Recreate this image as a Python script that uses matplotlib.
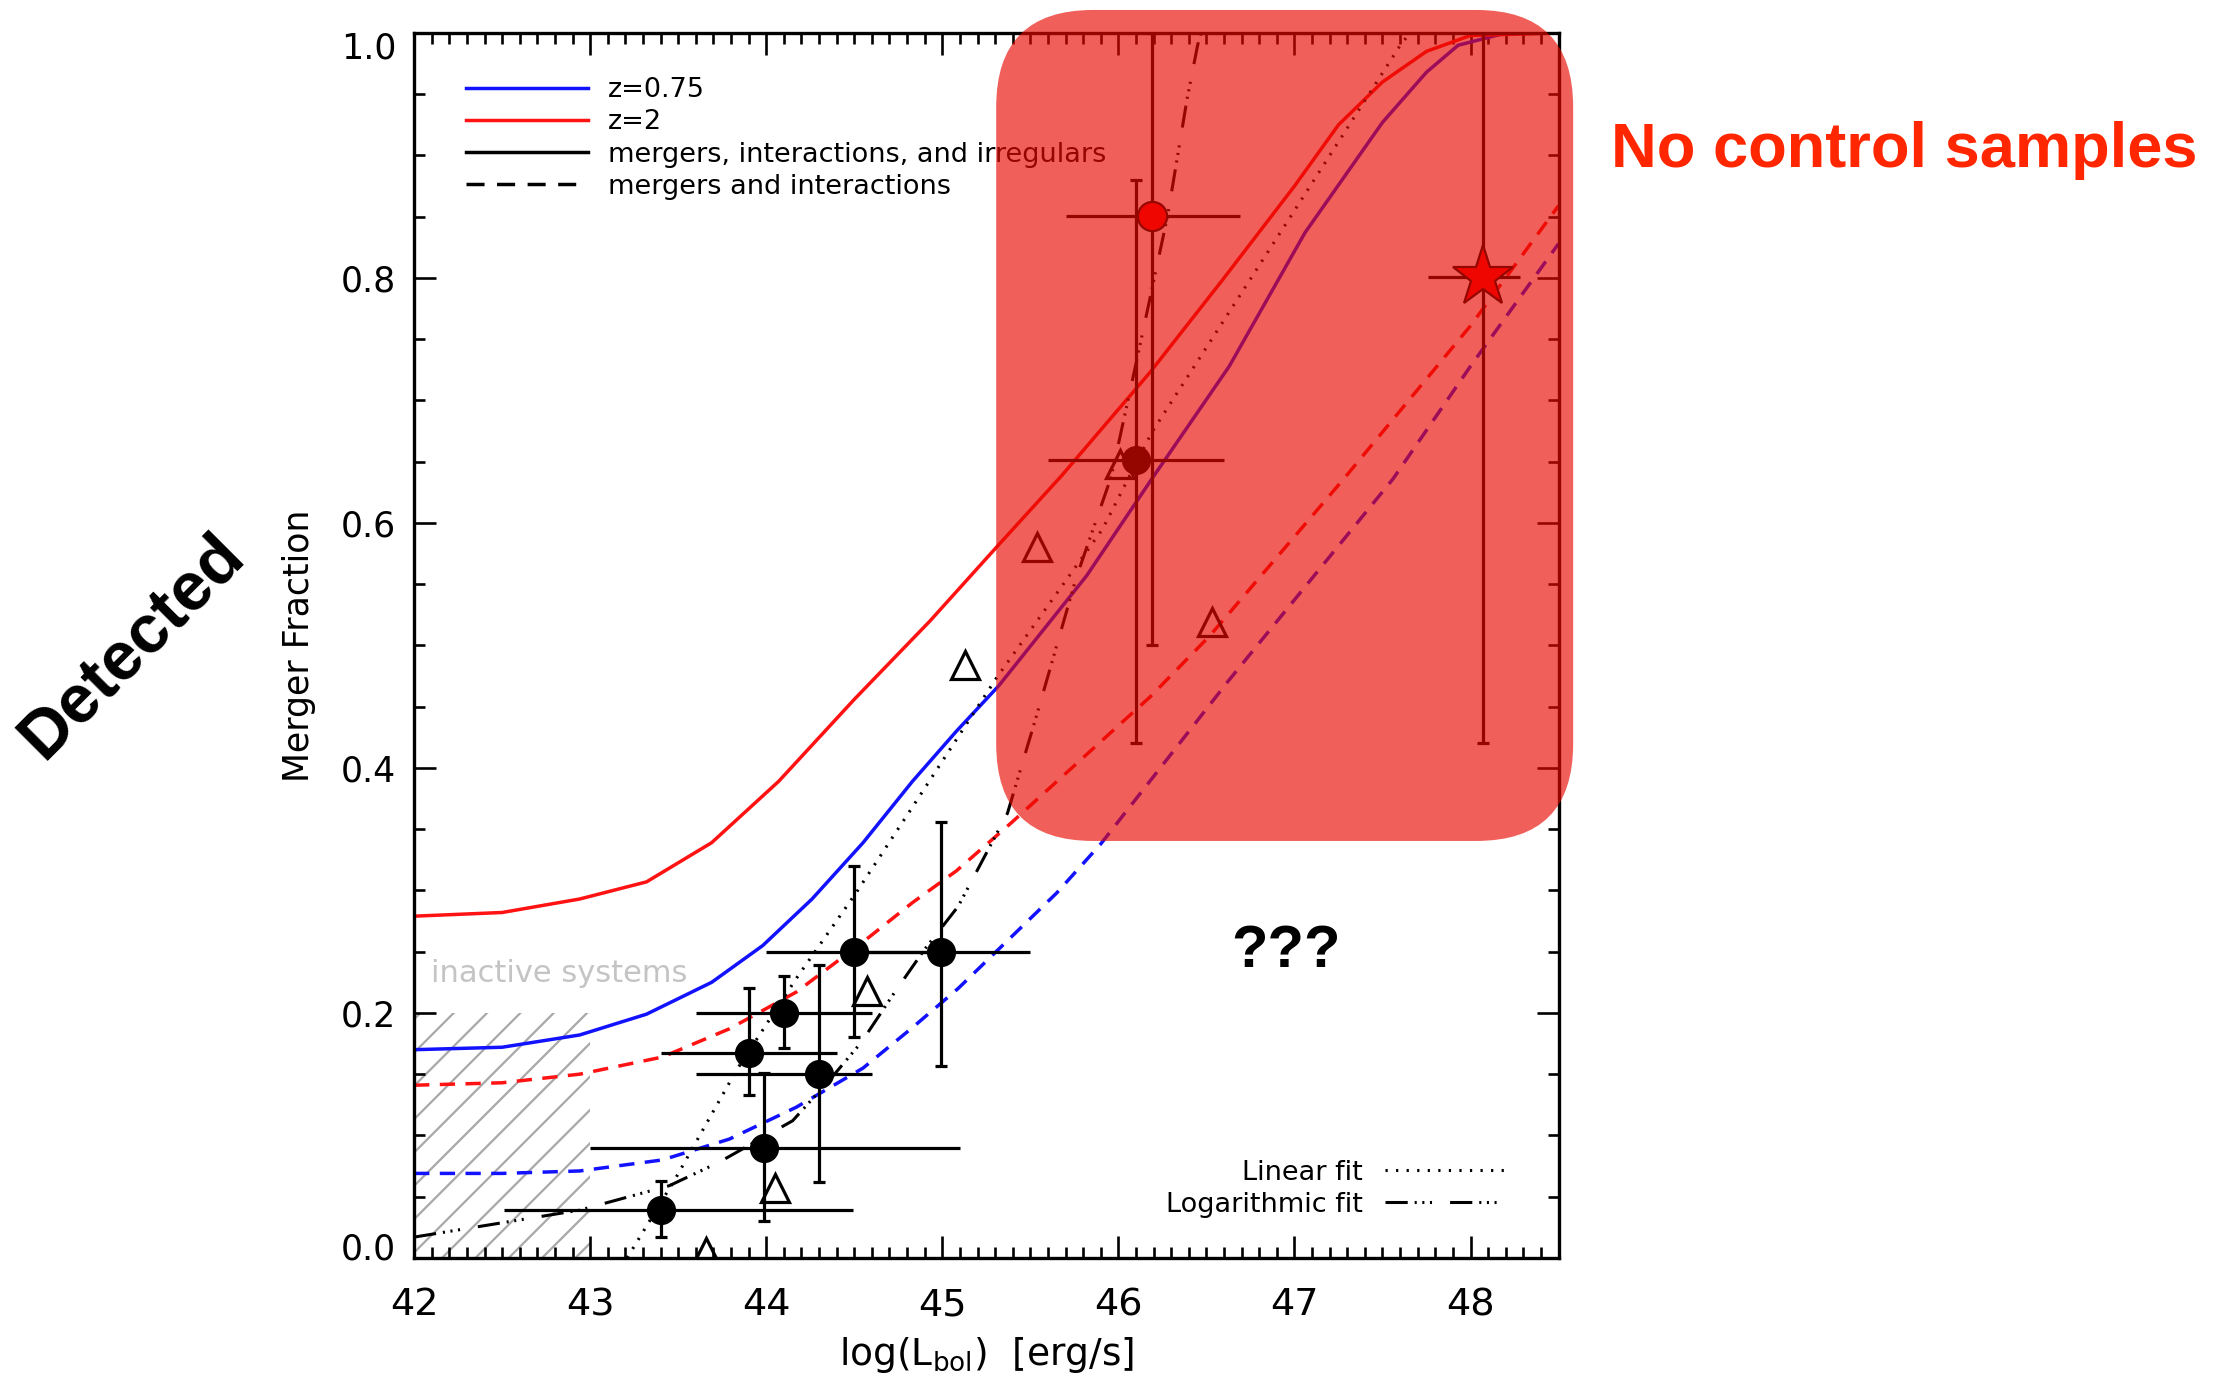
import matplotlib
matplotlib.use('Agg')
import matplotlib.pyplot as plt
import matplotlib.transforms as mtransforms
from matplotlib.lines import Line2D
from matplotlib.patches import FancyBboxPatch
from matplotlib.ticker import MultipleLocator
import numpy as np

plt.rcParams['font.family'] = ['DejaVu Sans']
plt.rcParams['mathtext.fontset'] = 'dejavusans'
plt.rcParams['lines.scale_dashes'] = False
plt.rcParams['hatch.linewidth'] = 1.6

# model curves, z=0.75 (blue) and z=2 (red)
lum_z075_all = [42.0, 42.5, 42.94, 43.32, 43.69, 43.98, 44.26, 44.55, 44.83, 45.08,
                45.32, 45.82, 46.19, 46.63, 47.06, 47.5, 47.75, 47.93, 48.2, 48.5]
frac_z075_all = [0.170, 0.172, 0.182, 0.199, 0.225, 0.255, 0.293, 0.339, 0.389, 0.430,
                 0.467, 0.557, 0.636, 0.728, 0.837, 0.927, 0.968, 0.990, 1.0, 1.0]

lum_z2_all = [42.0, 42.5, 42.94, 43.32, 43.69, 44.07, 44.5, 44.93, 45.3, 45.68,
              46.18, 46.6, 47.0, 47.25, 47.5, 47.75, 48.0, 48.5]
frac_z2_all = [0.279, 0.282, 0.293, 0.307, 0.339, 0.389, 0.456, 0.520, 0.579, 0.639,
               0.723, 0.800, 0.875, 0.925, 0.960, 0.985, 0.998, 1.0]

lum_z075_mi = [42.0, 42.5, 42.94, 43.41, 43.79, 44.17, 44.55, 44.83, 45.09, 45.65,
               45.9, 46.63, 47.56, 48.0, 48.5]
frac_z075_mi = [0.069, 0.069, 0.071, 0.080, 0.097, 0.123, 0.155, 0.188, 0.220, 0.298,
                0.338, 0.472, 0.636, 0.728, 0.828]

lum_z2_mi = [42.0, 42.5, 42.94, 43.41, 43.79, 44.17, 44.55, 44.83, 45.08, 45.39,
             46.18, 46.52, 47.28, 48.0, 48.5]
frac_z2_mi = [0.141, 0.143, 0.150, 0.164, 0.187, 0.217, 0.258, 0.290, 0.316, 0.355,
              0.458, 0.508, 0.636, 0.761, 0.859]

# fits to the data
lin_lum = [43.21, 43.485, 43.83, 44.17, 44.51, 44.83, 45.07, 45.31, 45.91, 46.19,
           47.0, 47.61, 47.66]
lin_frac = [0.0, 0.065, 0.153, 0.228, 0.298, 0.368, 0.421, 0.474, 0.595, 0.674,
            0.855, 0.992, 1.0]
log_lum = [42.0, 42.94, 43.45, 43.73, 44.15, 44.37, 44.54, 44.73, 44.90, 45.09,
           45.37, 45.54, 45.76, 45.96, 46.1, 46.28, 46.39, 46.45, 46.47]
log_frac = [0.017, 0.039, 0.059, 0.078, 0.112, 0.147, 0.176, 0.217, 0.252, 0.287,
            0.363, 0.445, 0.555, 0.638, 0.730, 0.851, 0.946, 0.990, 1.0]

# AGN samples (filled circles)
agn_lum = np.array([43.40, 43.99, 43.90, 44.10, 44.30, 44.50, 44.99, 46.10])
agn_frac = np.array([0.039, 0.090, 0.167, 0.200, 0.150, 0.250, 0.250, 0.651])
agn_lum_lo = np.array([42.51, 43.00, 43.40, 43.60, 43.60, 44.00, 44.50, 45.60])
agn_lum_hi = np.array([44.49, 45.10, 44.40, 44.60, 44.60, 45.00, 45.50, 46.60])
agn_frac_lo = np.array([0.017, 0.030, 0.133, 0.171, 0.062, 0.180, 0.157, 0.420])
agn_frac_hi = np.array([0.063, 0.151, 0.220, 0.230, 0.239, 0.320, 0.356, 0.880])

# red circle and star
red_lum = np.array([46.19])
red_frac = np.array([0.851])
red_lum_lo, red_lum_hi = np.array([45.70]), np.array([46.69])
red_frac_lo, red_frac_hi = np.array([0.50]), np.array([1.0])

star_lum = np.array([48.07])
star_frac = np.array([0.801])
star_lum_lo, star_lum_hi = np.array([47.76]), np.array([48.28])
star_frac_lo, star_frac_hi = np.array([0.42]), np.array([1.0])

# open triangles
tri_lum = [43.66, 44.05, 44.57, 45.13, 45.54, 46.01, 46.53]
tri_frac = [0.005, 0.057, 0.218, 0.484, 0.580, 0.648, 0.519]

inactive_lum = [42.0, 43.0]
inactive_top = 0.2

BLUE = '#1212ff'
RED = '#ff1212'
DASH = (0, (11, 7.5))
DOT = (0, (1.6, 6))
DASH3DOT = (0, (16, 5, 1.5, 4, 1.5, 4, 1.5, 13))
LW = 2.5

fig = plt.figure(figsize=(22.3, 13.86), dpi=100)
ax = fig.add_axes([0.1857, 0.0924, 0.5132, 0.8838])

ax.fill_between(inactive_lum, 0, inactive_top, hatch='/', facecolor='none',
                edgecolor='#a8a8a8', linewidth=0, zorder=1)
ax.text(42.095, 0.232, 'inactive systems', color='#c4c4c4', fontsize=22, va='center')

ax.plot(lum_z075_all, frac_z075_all, color=BLUE, lw=LW, zorder=2)
ax.plot(lum_z2_all, frac_z2_all, color=RED, lw=LW, zorder=2)
ax.plot(lum_z075_mi, frac_z075_mi, color=BLUE, lw=LW, ls=DASH, zorder=2)
ax.plot(lum_z2_mi, frac_z2_mi, color=RED, lw=LW, ls=DASH, zorder=2)
ax.plot(lin_lum, lin_frac, color='k', lw=2.2, ls=DOT, zorder=2)
ax.plot(log_lum, log_frac, color='k', lw=2.2, ls=DASH3DOT, zorder=2)


def draw_bars(x, y, xlo, xhi, ylo, yhi):
    ax.errorbar(x, y, yerr=[y - ylo, yhi - y], fmt='none', ecolor='k',
                elinewidth=2.3, capsize=4.3, capthick=2.3, zorder=3)
    ax.errorbar(x, y, xerr=[x - xlo, xhi - x], fmt='none', ecolor='k',
                elinewidth=2.3, capsize=0, zorder=3)


draw_bars(agn_lum, agn_frac, agn_lum_lo, agn_lum_hi, agn_frac_lo, agn_frac_hi)
draw_bars(red_lum, red_frac, red_lum_lo, red_lum_hi, red_frac_lo, red_frac_hi)
draw_bars(star_lum, star_frac, star_lum_lo, star_lum_hi, star_frac_lo, star_frac_hi)

ax.plot(agn_lum, agn_frac, 'o', ms=20, color='k', zorder=4)
ax.plot(tri_lum, tri_frac, '^', ms=20, mfc='none', mec='k', mew=2.3, zorder=4)
ax.plot(red_lum, red_frac, 'o', ms=21, mfc='#ff0000', mec='k', mew=1.6, zorder=4)
ax.plot(star_lum, star_frac, '*', ms=46, mfc='#ff0000', mec='k', mew=1.6, zorder=4)

ax.set_xlim(42, 48.5)
ax.set_ylim(0, 1)
ax.set_xticks(np.arange(42, 48.5, 1))
ax.set_yticks(np.arange(0, 1.01, 0.2))
ax.set_yticklabels(['0.0', '0.2', '0.4', '0.6', '0.8', '1.0'])
ax.xaxis.set_minor_locator(MultipleLocator(0.1))
ax.yaxis.set_minor_locator(MultipleLocator(0.05))
ax.tick_params(which='both', direction='in', top=True, right=True, width=1.9, color='k')
ax.tick_params(which='major', length=16)
ax.tick_params(which='minor', length=8)
ax.tick_params(axis='x', labelsize=27.5, pad=21)
ax.tick_params(axis='y', labelsize=25, pad=13)
for s in ax.spines.values():
    s.set_linewidth(2.4)

ax.set_xlabel(r'log(L$_{\mathrm{bol}}$)  [erg/s]', fontsize=27)
ax.xaxis.set_label_coords(0.5, -0.063)
ax.set_ylabel('Merger Fraction', fontsize=25)
ax.yaxis.set_label_coords(-0.086, 0.5)

# end labels sit inside the tick range in the original
ytk = ax.yaxis.get_major_ticks()
ytk[0].label1.set_transform(ytk[0].label1.get_transform() +
                            mtransforms.ScaledTranslation(0, 0.12, fig.dpi_scale_trans))
ytk[-1].label1.set_transform(ytk[-1].label1.get_transform() +
                             mtransforms.ScaledTranslation(0, -0.12, fig.dpi_scale_trans))

h1 = [Line2D([], [], color=BLUE, lw=LW), Line2D([], [], color=RED, lw=LW),
      Line2D([], [], color='k', lw=LW), Line2D([], [], color='k', lw=LW, ls=(0, (13, 9)))]
leg1 = ax.legend(h1, ['z=0.75', 'z=2', 'mergers, interactions, and irregulars',
                      'mergers and interactions'],
                 loc='upper left', bbox_to_anchor=(0.0452, 0.964), frameon=False,
                 fontsize=19.5, handlelength=4.5, handletextpad=0.75,
                 labelspacing=0.23, borderpad=0, borderaxespad=0)
ax.add_artist(leg1)
h2 = [Line2D([], [], color='k', lw=2.2, ls=DOT), Line2D([], [], color='k', lw=2.2, ls=DASH3DOT)]
ax.legend(h2, ['Linear fit', 'Logarithmic fit'], loc='lower right',
          bbox_to_anchor=(0.9558, 0.0328), frameon=False, markerfirst=False,
          fontsize=19.5, handlelength=4.55, handletextpad=0.8,
          labelspacing=0.23, borderpad=0, borderaxespad=0)

# highlighted region
box_x0, box_y0, box_x1, box_y1 = 45.306, 0.3404, 48.583, 1.0188
box = FancyBboxPatch((box_x0, box_y0), box_x1 - box_x0, box_y1 - box_y0,
                     boxstyle='round,pad=0,rounding_size=0.55',
                     mutation_aspect=0.0792 / 0.55, facecolor='#e80a00',
                     edgecolor='none', alpha=0.65, clip_on=False, zorder=6)
ax.add_patch(box)

fig.text(0.0590, 0.5334, 'Detected', rotation=45, ha='center', va='center',
         fontsize=49, fontweight='bold', family='Liberation Sans')
fig.text(0.8540, 0.8797, 'No control samples', color='#ff2600', ha='center',
         va='baseline', fontsize=45.5, fontweight='bold', family='Liberation Sans')
fig.text(0.5769, 0.3021, '???', ha='center', va='baseline', fontsize=43,
         fontweight='bold', family='Liberation Sans')

fig.savefig('out.png', dpi=100)
